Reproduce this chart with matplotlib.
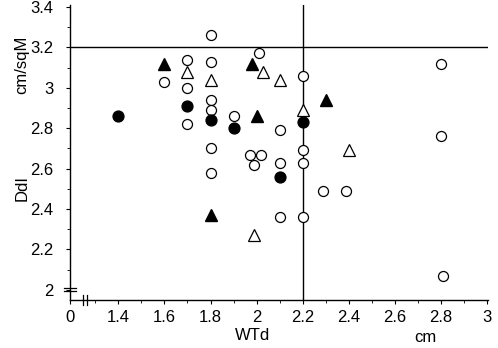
import matplotlib
matplotlib.use("Agg")
import matplotlib.pyplot as plt
import numpy as np

# data
open_circle_x = np.array([1.6, 1.7, 1.7, 1.7, 1.8, 1.8, 1.8, 1.8, 1.8, 1.8,
                          1.9, 1.97, 2.02, 1.99, 2.01, 2.1, 2.1, 2.1,
                          2.2, 2.2, 2.2, 2.2, 2.29, 2.39, 2.8, 2.8, 2.81])
open_circle_y = np.array([3.03, 3.14, 3.00, 2.82, 3.26, 3.13, 2.94, 2.89, 2.70, 2.58,
                          2.86, 2.67, 2.67, 2.62, 3.17, 2.79, 2.63, 2.36,
                          3.06, 2.69, 2.63, 2.36, 2.49, 2.49, 3.12, 2.76, 2.07])

filled_circle_x = np.array([1.4, 1.7, 1.8, 1.9, 2.1, 2.2])
filled_circle_y = np.array([2.86, 2.91, 2.84, 2.80, 2.56, 2.83])

filled_tri_x = np.array([1.6, 1.8, 1.98, 2.0, 2.3])
filled_tri_y = np.array([3.12, 2.37, 3.12, 2.86, 2.94])

open_tri_x = np.array([1.7, 1.8, 2.03, 2.1, 2.2, 2.4, 1.99])
open_tri_y = np.array([3.08, 3.04, 3.08, 3.04, 2.89, 2.69, 2.27])

x_ticks = [1.4, 1.6, 1.8, 2.0, 2.2, 2.4, 2.6, 2.8, 3.0]
x_labels = ["1.4", "1.6", "1.8", "2", "2.2", "2.4", "2.6", "2.8", "3"]
y_ticks = [2.0, 2.2, 2.4, 2.6, 2.8, 3.0, 3.2, 3.4]
y_labels = ["2", "2.2", "2.4", "2.6", "2.8", "3", "3.2", "3.4"]

# broken x axis: the "0" sits just left of 1.4
x_zero = 1.19
x_ref = 2.2
y_ref = 3.2

plt.rcParams["font.family"] = ["Liberation Sans", "DejaVu Sans"]

fig = plt.figure(figsize=(4.98, 3.48), dpi=100)
ax = fig.add_axes([0.1406, 0.138, 0.8394, 0.8476])

# reference lines
ax.axhline(y_ref, color="black", linewidth=1.0, zorder=1)
ax.axvline(x_ref, color="black", linewidth=1.0, zorder=1)

ax.plot(open_circle_x, open_circle_y, linestyle="none", marker="o", markersize=7.2,
        markerfacecolor="white", markeredgecolor="black", markeredgewidth=0.9, zorder=3)
ax.plot(filled_circle_x, filled_circle_y, linestyle="none", marker="o", markersize=7.8,
        color="black", zorder=3)
ax.plot(filled_tri_x, filled_tri_y, linestyle="none", marker="^", markersize=8.5,
        color="black", zorder=3)
ax.plot(open_tri_x, open_tri_y, linestyle="none", marker="^", markersize=9,
        markerfacecolor="white", markeredgecolor="black", markeredgewidth=0.9, zorder=3)

ax.set_xlim(x_zero, 3.005)
ax.set_ylim(1.95, 3.41)

ax.set_xticks([x_zero] + x_ticks)
ax.set_xticklabels(["0"] + x_labels, fontsize=12)
ax.set_xticks(np.arange(1.3, 3.0, 0.1), minor=True)
ax.set_yticks(y_ticks)
ax.set_yticklabels(y_labels, fontsize=12)
ax.set_yticks(np.arange(2.1, 3.4, 0.1), minor=True)

ax.tick_params(axis="both", which="major", direction="out", length=3, width=0.8, pad=4)
ax.tick_params(axis="both", which="minor", direction="out", length=2, width=0.6)
ax.tick_params(axis="y", which="major", pad=9)

for side in ["top", "right"]:
    ax.spines[side].set_visible(False)
ax.spines["left"].set_linewidth(1.0)
ax.spines["bottom"].set_linewidth(1.0)

# break marks on both axes
trans_x = ax.get_xaxis_transform()
for bx in [1.248, 1.262]:
    ax.plot([bx, bx], [-0.018, 0.018], transform=trans_x, color="black",
            linewidth=0.9, clip_on=False)
trans_y = ax.get_yaxis_transform()
for by in [1.992, 2.007]:
    ax.plot([-0.014, 0.014], [by, by], transform=trans_y, color="black",
            linewidth=0.9, clip_on=False)

# axis labels placed like the original
fig.text(0.044, 0.46, "DdI", rotation=90, fontsize=12, ha="center", va="center")
fig.text(0.044, 0.815, "cm/sqM", rotation=90, fontsize=12, ha="center", va="center")
fig.text(0.508, 0.035, "WTd", fontsize=12, ha="center", va="center")
fig.text(0.855, 0.03, "cm", fontsize=12, ha="center", va="center")

fig.savefig("out.png", dpi=100)
